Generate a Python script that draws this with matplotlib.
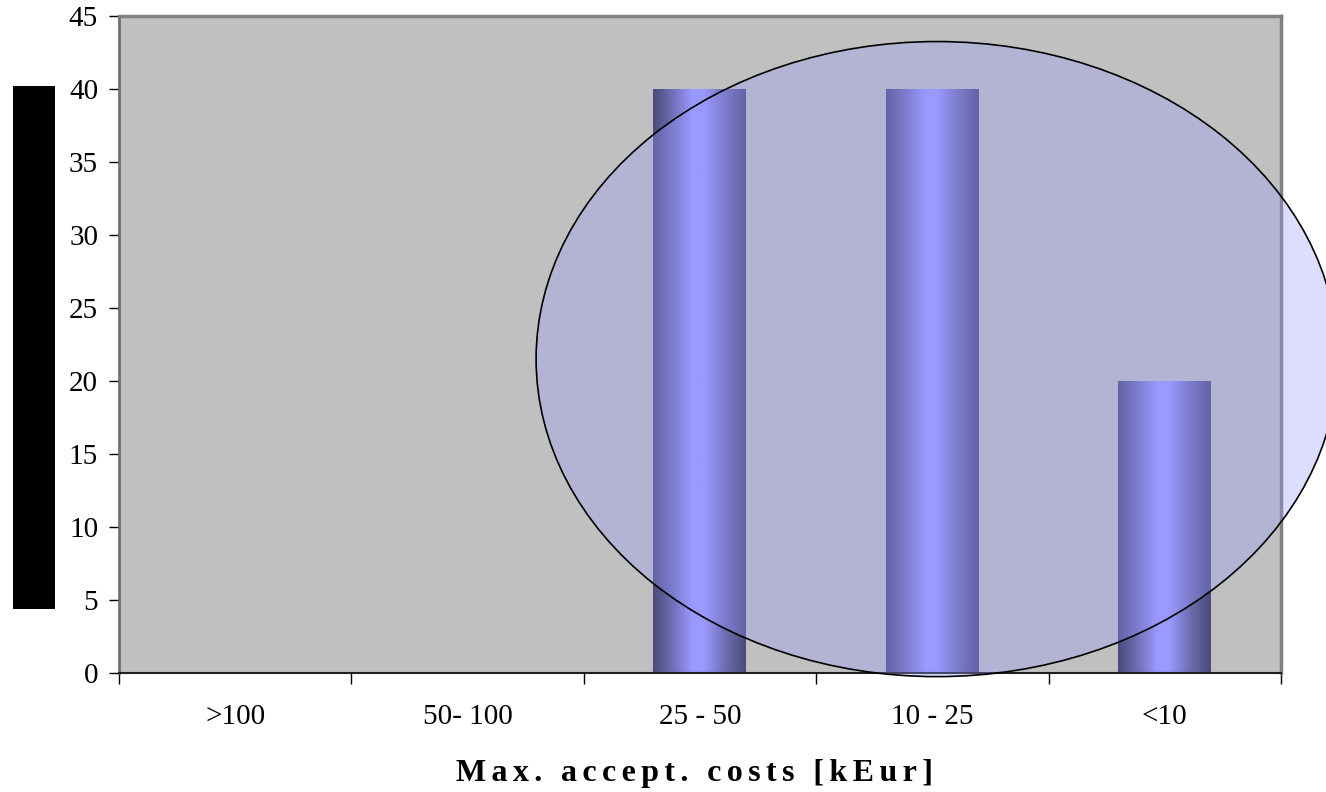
import numpy as np
import matplotlib
matplotlib.use("Agg")
import matplotlib.pyplot as plt
from matplotlib.colors import LinearSegmentedColormap
from matplotlib.patches import Ellipse, Rectangle

# cost classes and share of answers per class
categories = [">100", "50- 100", "25 - 50", "10 - 25", "<10"]
values = [0, 0, 40, 40, 20]

# highlighted region (data coordinates)
ring_center = (3.02, 21.5)
ring_size = (3.45, 43.5)

SERIF = ["Liberation Serif", "DejaVu Serif"]

fig = plt.figure(figsize=(13.26, 7.92), dpi=100)
ax = fig.add_axes([0.0897, 0.1503, 0.966 - 0.0897, 0.9798 - 0.1503])
ax.set_facecolor("#c0c0c0")

x = np.arange(len(categories))
bars = ax.bar(x, values, width=0.40, color="none", edgecolor="none", zorder=2)

# cylinder-like shading across each bar
shade = LinearSegmentedColormap.from_list(
    "shade", [(0, "#4a4a7c"), (0.18, "#6a6aac"), (0.42, "#9999ff"),
              (0.55, "#9999ff"), (0.8, "#6a6aaa"), (1, "#4a4a7a")])
grad = np.linspace(0, 1, 256).reshape(1, -1)
for rect in bars:
    h = rect.get_height()
    if h <= 0:
        continue
    x0 = rect.get_x()
    ax.imshow(grad, cmap=shade, aspect="auto", zorder=2,
              extent=[x0, x0 + rect.get_width(), 0, h])

ax.set_xlim(-0.5, len(categories) - 0.5)
ax.set_ylim(0, 45)
ax.set_yticks(np.arange(0, 46, 5))

ax.set_xticks(x)
ax.set_xticklabels(categories)
ax.set_xticks(np.arange(-0.5, len(categories)), minor=True)
ax.tick_params(axis="x", which="major", length=0, pad=22)
ax.tick_params(axis="x", which="minor", length=8, width=1, direction="out")
ax.tick_params(axis="y", length=7, width=1, direction="out", pad=8)
for lab in ax.get_xticklabels() + ax.get_yticklabels():
    lab.set_family(SERIF)
    lab.set_fontsize(21)

for side in ("top", "right"):
    ax.spines[side].set_color("#808080")
    ax.spines[side].set_linewidth(2.5)
ax.spines["left"].set_color("#707070")
ax.spines["left"].set_linewidth(2)
ax.spines["bottom"].set_color("#202020")
ax.spines["bottom"].set_linewidth(1.5)

# translucent ring over the lower cost classes
ring = Ellipse(ring_center, ring_size[0], ring_size[1], facecolor="#9999ff",
               alpha=0.33, edgecolor="none", zorder=4, clip_on=False)
ax.add_patch(ring)
ring_edge = Ellipse(ring_center, ring_size[0], ring_size[1], facecolor="none",
                    edgecolor="black", linewidth=1.2, zorder=5, clip_on=False)
ax.add_patch(ring_edge)

# spaced-out axis title
title = "Max. accept. costs [kEur]"
gap = "\u2006"
spaced = (gap + " " + gap).join(gap.join(word) for word in title.split(" "))
fig.text(0.524, 1 - 773 / 792, spaced, ha="center", va="center",
         fontsize=23, fontweight="bold", family=SERIF)

# blacked-out vertical label
fig.add_artist(Rectangle((13 / 1326, 1 - 609 / 792), 42 / 1326, 523 / 792,
                         transform=fig.transFigure, facecolor="black",
                         edgecolor="none"))

fig.savefig("out.png", dpi=100)
